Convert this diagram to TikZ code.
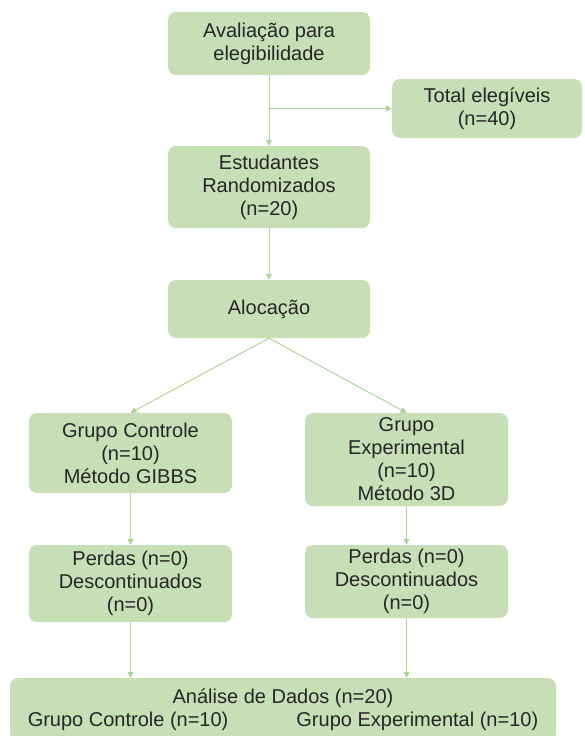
\documentclass[tikz,border=0pt]{standalone}
\usepackage{fontspec}
\setmainfont{Liberation Sans}
\usepackage{xcolor}
\usepackage{tikz}
\usetikzlibrary{arrows.meta,positioning,calc}
\definecolor{caixaverde}{HTML}{C6DFB6}
\definecolor{linhaverde}{HTML}{AFD29A}
\definecolor{textocinza}{HTML}{262626}

\begin{document}
\begin{tikzpicture}[x = 1pt, y = -1pt,
    caixa/.style = {fill = caixaverde, rounded corners = 8pt, align = center, text = textocinza,
      font = \fontsize{20}{23}\selectfont, inner sep = 0pt},
    seta/.style = {draw = linhaverde, line width = 1pt, -{Triangle[length = 6pt, width = 6pt]}}]
    \useasboundingbox (0,0) rectangle (584,736);
    \node[caixa, minimum width = 202pt, minimum height = 63pt] (aval) at (269,43.5) {Avaliação para\\elegibilidade};
    \node[caixa, minimum width = 190pt, minimum height = 59pt] (total) at (487,108.5) {Total elegíveis\\(n=40)};
    \node[caixa, minimum width = 202pt, minimum height = 82pt] (estud) at (269,187) {Estudantes\\Randomizados\\(n=20)};
    \node[caixa, minimum width = 202pt, minimum height = 58pt] (aloc) at (269,309) {Alocação};
    \node[caixa, minimum width = 203pt, minimum height = 80pt] (gc) at (130.5,453) {Grupo Controle\\(n=10)\\Método GIBBS};
    \node[caixa, minimum width = 203pt, minimum height = 93pt] (ge) at (406.5,459.5) {Grupo\\Experimental\\(n=10)\\Método 3D};
    \node[caixa, minimum width = 203pt, minimum height = 77pt] (pl) at (130.5,583.5) {Perdas (n=0)\\Descontinuados\\(n=0)};
    \node[caixa, minimum width = 203pt, minimum height = 73pt] (pr) at (406.5,581.5) {Perdas (n=0)\\Descontinuados\\(n=0)};
    \node[caixa, minimum width = 546pt, minimum height = 64pt] (anal) at (283,710) {Análise de Dados (n=20)\\Grupo Controle (n=10)\hspace{68pt}Grupo Experimental (n=10)};
    \coordinate (ramo) at (aval.south |- total.west);
    \draw[seta] (aval.south) -- (estud.north);
    \draw[seta] (ramo) -- (total.west);
    \draw[seta] (estud.south) -- (aloc.north);
    \draw[seta] (aloc.south) -- (gc.north);
    \draw[seta] (aloc.south) -- (ge.north);
    \draw[seta] (gc.south) -- (pl.north);
    \draw[seta] (ge.south) -- (pr.north);
    \draw[seta] (pl.south) -- (pl.south |- anal.north);
    \draw[seta] (pr.south) -- (pr.south |- anal.north);
    \end{tikzpicture}
\end{document}
